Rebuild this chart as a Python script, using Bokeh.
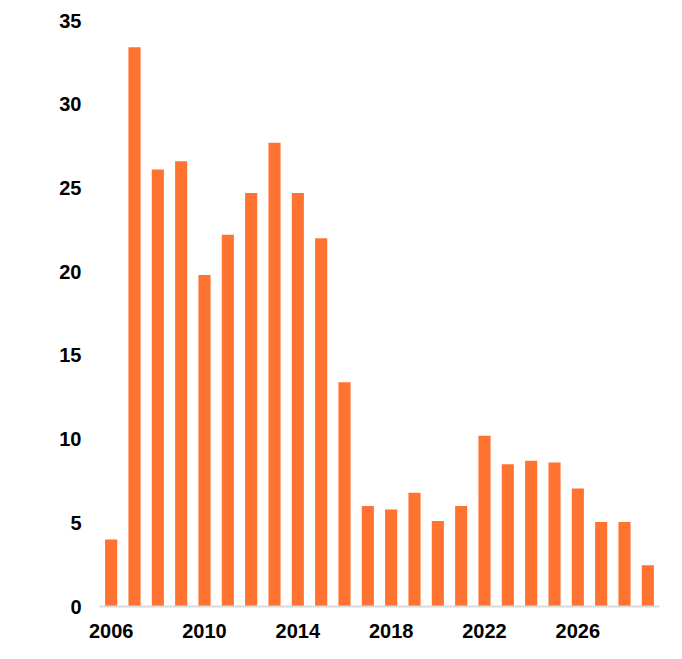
from bokeh.plotting import figure
from bokeh.models import Range1d, FixedTicker, ColumnDataSource
from bokeh.embed import file_html
from bokeh.resources import INLINE

years = list(range(2006, 2030))
values = [4.0, 33.4, 26.1, 26.6, 19.8, 22.2, 24.7, 27.7, 24.7, 22.0, 13.4, 6.0,
          5.8, 6.8, 5.1, 6.0, 10.2, 8.5, 8.7, 8.6, 7.05, 5.05, 5.05, 2.47]
x_ticks = [2006, 2010, 2014, 2018, 2022, 2026]
y_ticks = [0, 5, 10, 15, 20, 25, 30, 35]

src = ColumnDataSource(data=dict(year=years, value=values))

p = figure(width=674, height=651, output_backend="svg", toolbar_location=None,
           x_range=Range1d(2005.5, 2029.5), y_range=Range1d(0, 35),
           min_border_left=99, min_border_right=15, min_border_top=20,
           min_border_bottom=45)
p.vbar(x="year", top="value", width=0.52, bottom=0, source=src,
       fill_color="#FF7330", line_color=None)

p.xgrid.visible = False
p.ygrid.visible = False
p.outline_line_color = None
p.background_fill_color = "white"
p.border_fill_color = "white"

font = "Liberation Sans"
for ax in (p.xaxis[0], p.yaxis[0]):
    ax.major_label_text_font = font
    ax.major_label_text_font_style = "bold"
    ax.major_label_text_font_size = "20px"
    ax.major_label_text_color = "black"
    ax.major_tick_line_color = None
    ax.minor_tick_line_color = None
    ax.major_tick_out = 0
    ax.major_tick_in = 0
    ax.minor_tick_out = 0

p.xaxis.ticker = FixedTicker(ticks=x_ticks)
p.yaxis.ticker = FixedTicker(ticks=y_ticks)
p.xaxis.axis_line_color = "#d9d9d9"
p.xaxis.axis_line_width = 2
p.yaxis.axis_line_color = None
p.xaxis.major_label_standoff = 17
p.yaxis.major_label_standoff = 18

open("out.html", "w").write(file_html(p, INLINE))
